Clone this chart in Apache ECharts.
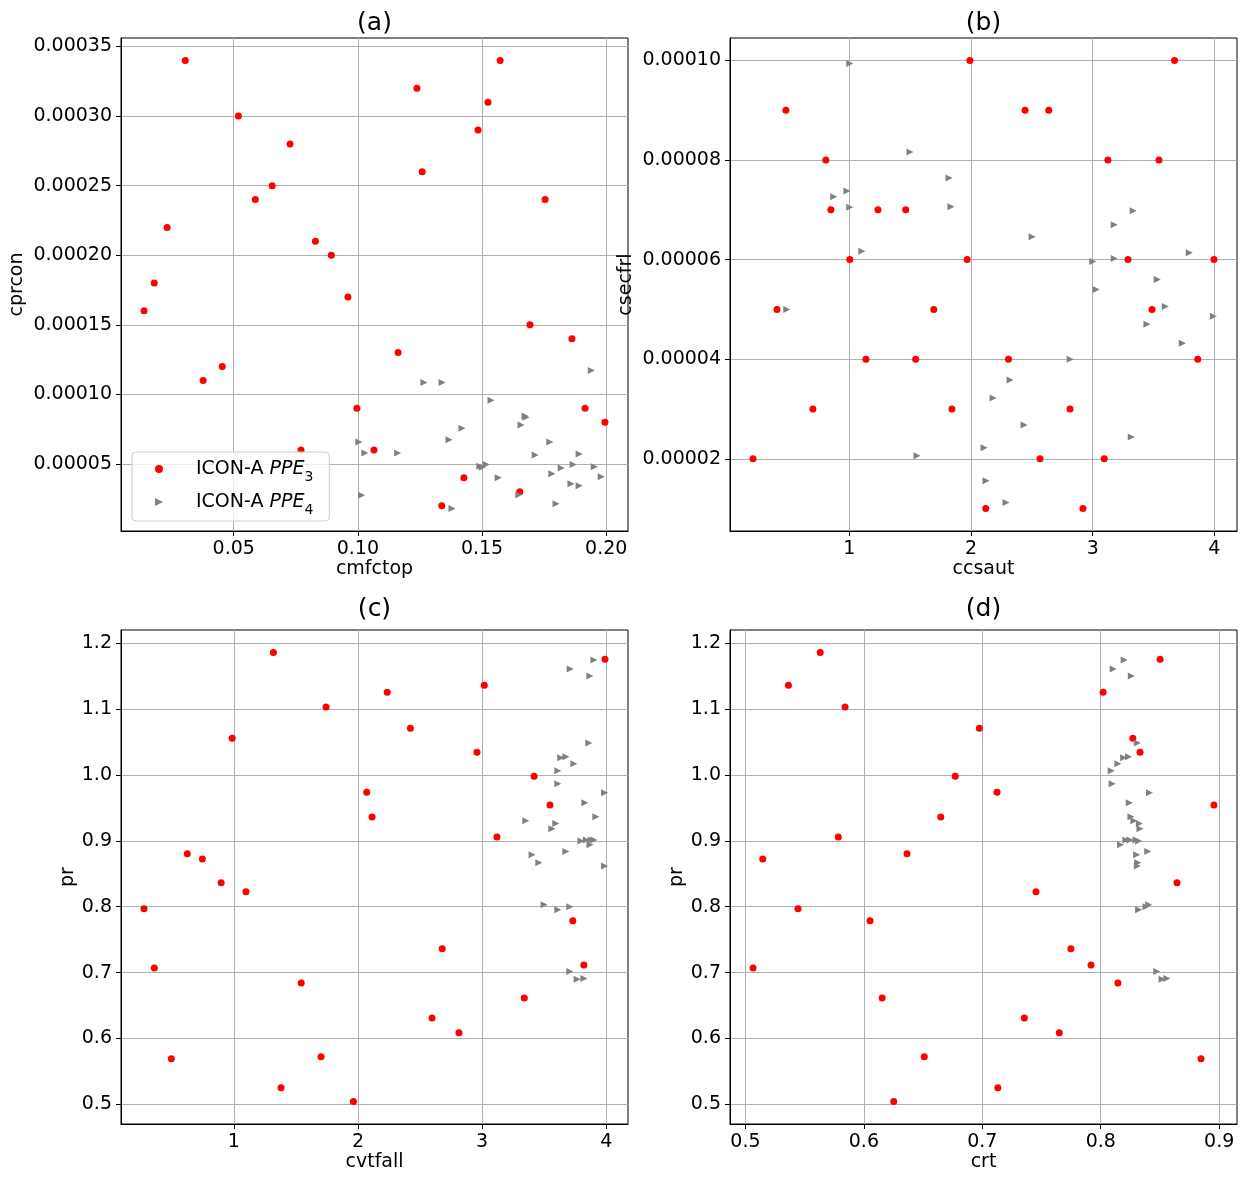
<!DOCTYPE html>
<html><head><meta charset="utf-8">
<script src="https://cdn.jsdelivr.net/npm/echarts@6/dist/echarts.min.js"></script>
<style>html,body{margin:0;padding:0;background:#fff}#c{width:1250px;height:1181px}</style>
</head><body><div id="c"></div><script>
// ---------- data ----------
const seriesNames = ['ICON-A PPE3', 'ICON-A PPE4'];
// panel (a): cmfctop vs cprcon
const cmfctop3 = [0.0305,0.0519,0.0727,0.0655,0.0587,0.0232,0.0180,0.0139,0.0829,0.0893,0.0960,0.0454,0.0377,0.1162,0.0996,0.0771,0.1065,0.1238,0.1259,0.1573,0.1524,0.1484,0.1754,0.1693,0.1862,0.1915,0.1995,0.1427,0.1652,0.1338];
const cprcon3 = [0.00034,0.00030,0.00028,0.00025,0.00024,0.00022,0.00018,0.00016,0.00021,0.00020,0.00017,0.00012,0.00011,0.00013,0.00009,0.00006,0.00006,0.00032,0.00026,0.00034,0.00031,0.00029,0.00024,0.00015,0.00014,0.00009,0.00008,0.00004,0.00003,0.00002];
const cmfctop4 = [0.1266,0.1339,0.1536,0.1940,0.1673,0.1677,0.1657,0.1419,0.1773,0.1367,0.1004,0.1028,0.1160,0.1891,0.1714,0.1491,0.1501,0.1517,0.1867,0.1819,0.1952,0.1781,0.1565,0.1980,0.1858,0.1891,0.1648,0.1015,0.1798,0.1379];
const cprcon4 = [0.0001086,0.0001086,0.0000957,0.0001171,0.0000845,0.0000836,0.0000779,0.0000757,0.0000657,0.0000674,0.0000657,0.0000579,0.0000579,0.0000571,0.0000564,0.0000483,0.0000476,0.0000495,0.0000495,0.0000471,0.0000479,0.0000429,0.0000400,0.0000407,0.0000357,0.0000343,0.0000279,0.0000274,0.0000214,0.0000179];
// panel (b): ccsaut vs csecfrl
const ccsaut3 = [0.478,1.991,2.444,2.639,3.673,0.806,3.125,3.545,0.848,1.235,1.463,1.003,1.968,3.290,3.997,0.405,1.694,3.488,1.136,1.545,2.308,3.864,0.700,1.843,2.814,0.208,2.567,3.095,2.121,2.920];
const csecfrl3 = [0.00009,0.0001,0.00009,0.00009,0.0001,0.00008,0.00008,0.00008,0.00007,0.00007,0.00007,0.00006,0.00006,0.00006,0.00006,0.00005,0.00005,0.00005,0.00004,0.00004,0.00004,0.00004,0.00003,0.00003,0.00003,0.00002,0.00002,0.00002,0.00001,0.00001];
const ccsaut4 = [1.003,1.498,1.819,0.980,0.871,1.003,1.835,3.333,3.177,2.502,1.102,3.794,3.001,3.177,3.029,3.531,0.485,3.597,3.992,3.446,3.737,2.815,2.321,2.181,2.436,3.317,2.107,1.556,2.123,2.288];
const csecfrl4 = [0.0000994,0.0000816,0.0000764,0.0000738,0.0000726,0.0000705,0.0000706,0.0000698,0.0000670,0.0000646,0.0000617,0.0000614,0.0000596,0.0000602,0.0000540,0.0000560,0.0000500,0.0000506,0.0000486,0.0000470,0.0000432,0.0000400,0.0000358,0.0000322,0.0000268,0.0000244,0.0000222,0.0000206,0.0000156,0.0000112];
// panels (c) and (d): pr vs cvtfall / crt
const pr3 = [1.1857,1.1754,1.136,1.1252,1.1029,1.0709,1.0555,1.0344,0.9978,0.9738,0.9544,0.9362,0.9059,0.8802,0.8722,0.8362,0.8225,0.7968,0.7785,0.7363,0.7117,0.7071,0.6843,0.6615,0.6312,0.6089,0.5695,0.5723,0.5255,0.5044];
const cvtfall3 = [1.319,3.990,3.018,2.236,1.743,2.423,0.987,2.959,3.419,2.071,3.547,2.114,3.120,0.625,0.747,0.898,1.098,0.277,3.731,2.679,3.820,0.360,1.543,3.340,2.597,2.814,0.497,1.703,1.381,1.964];
const crt3 = [0.5631,0.8501,0.5363,0.8020,0.5841,0.6975,0.8271,0.8332,0.6771,0.7124,0.8956,0.6649,0.5784,0.6364,0.5146,0.8644,0.7453,0.5444,0.6052,0.7748,0.7918,0.5064,0.8145,0.6154,0.7355,0.7650,0.8847,0.6510,0.7131,0.6252];
const pr4 = [1.1742,1.1606,1.150,1.0485,1.0273,1.0258,1.0167,1.0061,0.9864,0.9727,0.9576,0.9364,0.9303,0.9263,0.9182,0.9013,0.9013,0.901,0.8996,0.8939,0.8838,0.8788,0.8667,0.8619,0.803,0.800,0.7955,0.7015,0.6909,0.6899];
const cvtfall4 = [3.901,3.710,3.868,3.860,3.675,3.634,3.739,3.610,3.610,3.987,3.828,3.917,3.352,3.594,3.562,3.902,3.879,3.840,3.797,3.869,3.675,3.403,3.457,3.987,3.500,3.707,3.610,3.707,3.820,3.766];
const crt4 = [0.8198,0.8105,0.8258,0.8309,0.8235,0.8193,0.8144,0.8088,0.8096,0.8411,0.8241,0.8255,0.8280,0.8326,0.8331,0.8212,0.8246,0.8297,0.8320,0.8167,0.8397,0.8303,0.8312,0.8309,0.8405,0.8382,0.8320,0.8473,0.8558,0.8518];
// tick labels
const xTicksA = [0.05,0.10,0.15,0.20];
const yTicksA = [0.00005,0.00010,0.00015,0.00020,0.00025,0.00030,0.00035];
const xTicksB = [1,2,3,4];
const yTicksB = [0.00002,0.00004,0.00006,0.00008,0.00010];
const xTicksC = [1,2,3,4];
const yTicksCD = [0.5,0.6,0.7,0.8,0.9,1.0,1.1,1.2];
const xTicksD = [0.5,0.6,0.7,0.8,0.9];
const panelTitles = ['(a)','(b)','(c)','(d)'];
const xNames = ['cmfctop','ccsaut','cvtfall','crt'];
const yNames = ['cprcon','csecfrl','pr','pr'];

// ---------- chart ----------
const FONT = 'DejaVu Sans';
const zip = (xs, ys) => xs.map((x, i) => [x, ys[i]]);
const pad = v => { const r = v.max - v.min; return {min: v.min - 0.05 * r, max: v.max + 0.05 * r}; };
const grids = [
  {left: 121, top: 38, width: 507, height: 493},
  {left: 730, top: 38, width: 507, height: 493},
  {left: 121, top: 630, width: 507, height: 494},
  {left: 730, top: 630, width: 507, height: 494}
];
const titleTops = [11, 11, 597, 597];
const xT = [xTicksA, xTicksB, xTicksC, xTicksD];
const yT = [yTicksA, yTicksB, yTicksCD, yTicksCD];
const xFmt = [v => v.toFixed(2), v => String(Math.round(v)), v => String(Math.round(v)), v => v.toFixed(1)];
const yFmt = [v => v.toFixed(5), v => v.toFixed(5), v => v.toFixed(1), v => v.toFixed(1)];
const yNameGap = [94, 94, 40, 40];

function axisCommon(ticks, fmt) {
  return {
    scale: true,
    min: v => pad(v).min, max: v => pad(v).max,
    axisLine: {show: true, onZero: false, lineStyle: {color: '#000', width: 1}},
    axisTick: {show: true, length: 5, lineStyle: {color: '#000', width: 1}, customValues: ticks},
    axisLabel: {show: true, color: '#000', fontSize: 19, fontFamily: FONT, margin: 9, customValues: ticks, formatter: fmt, showMinLabel: true, showMaxLabel: true},
    splitLine: {show: true, lineStyle: {color: '#b0b0b0', width: 1}},
    nameLocation: 'middle',
    nameTextStyle: {color: '#000', fontSize: 19, fontFamily: FONT}
  };
}

const xAxis = [], yAxis = [], series = [], title = [];
for (let i = 0; i < 4; i++) {
  xAxis.push(Object.assign(axisCommon(xT[i], xFmt[i]), {type: 'value', gridIndex: i, name: xNames[i], nameGap: 29}));
  yAxis.push(Object.assign(axisCommon(yT[i], yFmt[i]), {type: 'value', gridIndex: i, name: yNames[i], nameGap: yNameGap[i]}));
  const g = grids[i];
  title.push({text: panelTitles[i], left: g.left + g.width / 2, top: titleTops[i], textAlign: 'center', padding: 0,
    textStyle: {fontSize: 25, fontWeight: 'normal', color: '#000', fontFamily: FONT, lineHeight: 25}});
}
const d3 = [zip(cmfctop3, cprcon3), zip(ccsaut3, csecfrl3), zip(cvtfall3, pr3), zip(crt3, pr3)];
const d4 = [zip(cmfctop4, cprcon4), zip(ccsaut4, csecfrl4), zip(cvtfall4, pr4), zip(crt4, pr4)];
for (let i = 0; i < 4; i++) {
  series.push({name: seriesNames[0], type: 'scatter', xAxisIndex: i, yAxisIndex: i, data: d3[i],
    symbol: 'circle', symbolSize: 7, itemStyle: {color: '#ff0000', opacity: 1}, z: 3});
  series.push({name: seriesNames[1], type: 'scatter', xAxisIndex: i, yAxisIndex: i, data: d4[i],
    symbol: 'triangle', symbolSize: 7, symbolRotate: -90, itemStyle: {color: '#808080', opacity: 1}, z: 3});
}

const chart = echarts.init(document.getElementById('c'), null, {renderer: 'canvas'});
chart.setOption({
  animation: false,
  backgroundColor: '#fff',
  title: title,
  grid: grids.map(g => Object.assign({containLabel: false, show: true, borderColor: '#000', borderWidth: 1, backgroundColor: 'transparent'}, g)),
  xAxis: xAxis, yAxis: yAxis, series: series,
  legend: {
    left: 132, top: 452, orient: 'vertical', selectedMode: false, z: 10,
    data: [{name: seriesNames[0], icon: 'circle'}, {name: seriesNames[1], icon: 'path://M0,0L10,5L0,10Z'}],
    itemWidth: 8, itemHeight: 8, itemGap: 3,
    padding: [2, 16, 4, 23],
    backgroundColor: 'rgba(255,255,255,0.8)', borderColor: '#cccccc', borderWidth: 1, borderRadius: 4,
    textStyle: {fontSize: 19, fontFamily: FONT, color: '#000', lineHeight: 22,
      rich: {
        sp: {width: 28, fontSize: 19, lineHeight: 22},
        n: {fontSize: 19, fontFamily: FONT, color: '#000', lineHeight: 22},
        i: {fontStyle: 'italic', fontSize: 19, fontFamily: FONT, color: '#000', lineHeight: 22},
        s: {fontSize: 14, fontFamily: FONT, color: '#000', lineHeight: 14, padding: [16, 0, 0, 0]}
      }},
    formatter: n => '{sp| }{n|ICON-A }{i|PPE}{s|' + (n === seriesNames[0] ? '3' : '4') + '}'
  }
});
</script></body></html>
